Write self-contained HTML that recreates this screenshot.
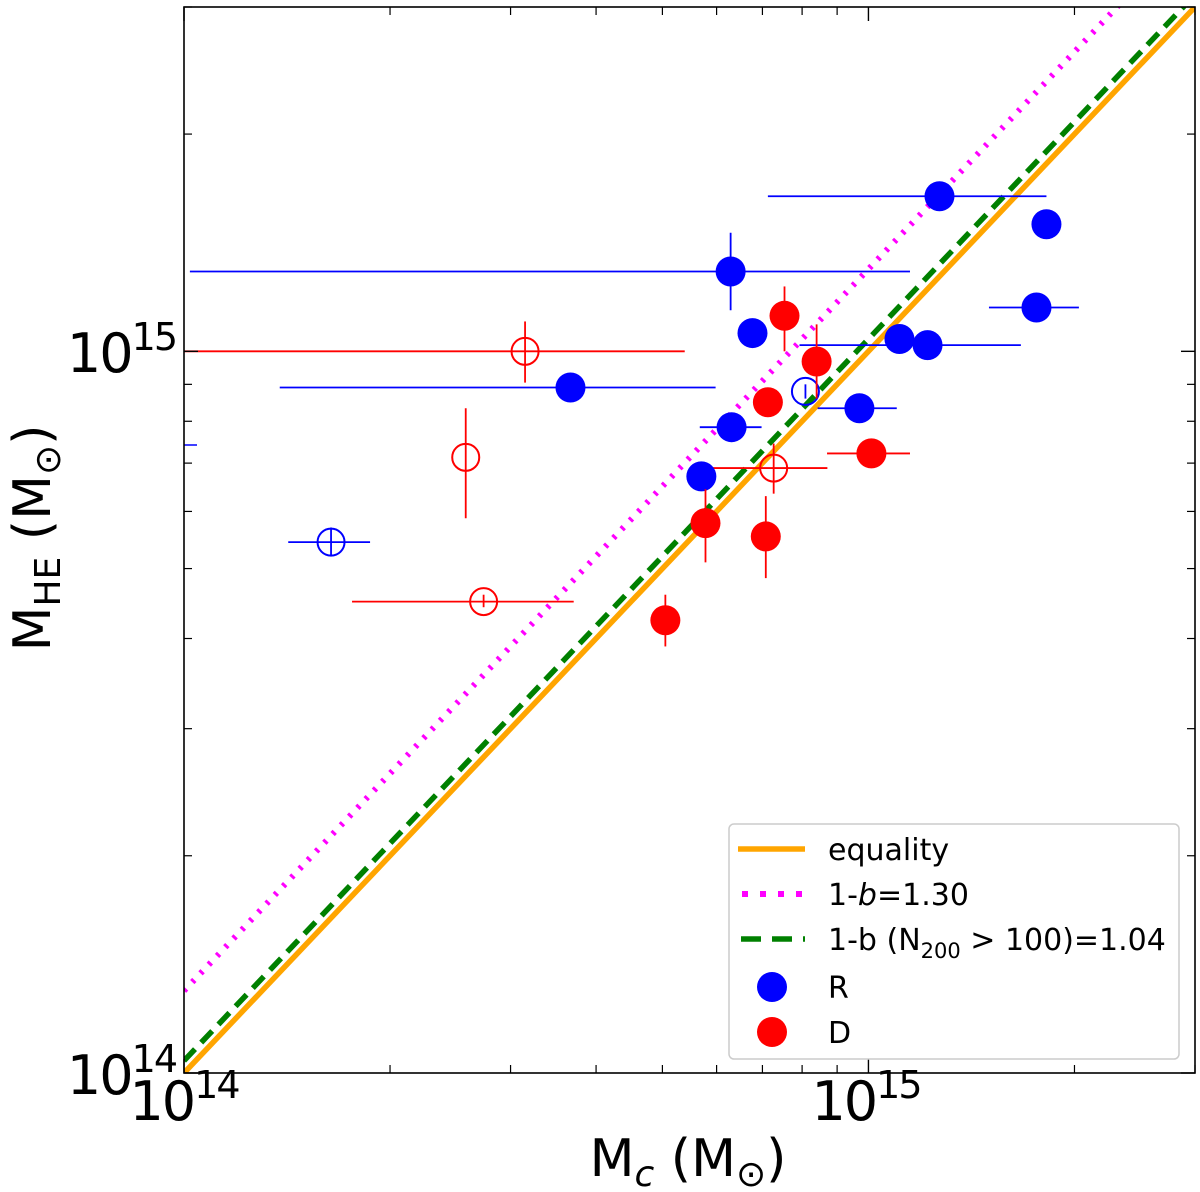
<!DOCTYPE html>
<html><head><meta charset="utf-8"><style>
body{margin:0;background:#fff;}
svg{display:block;font-family:"DejaVu Sans","Liberation Sans",sans-serif;}
</style></head><body>
<svg id="chart" width="1200" height="1192" viewBox="0 0 1200 1192" xmlns="http://www.w3.org/2000/svg"></svg>
<script>
// data in units of 1e14 Msun
const rX  =[12.7,18.2,6.29,17.6,6.77,11.1,12.2,3.67,9.70,6.31,5.70];
const rY  =[16.4,15.0,12.9,11.5,10.6,10.4,10.2,8.91,8.34,7.85,6.71];
const rXlo=[7.13,17.6,1.02,15.0,6.77,11.1,7.93,1.38,8.43,5.67,5.70];
const rXhi=[18.2,18.8,11.5,20.3,6.77,11.1,16.7,5.98,11.0,6.98,5.70];
const rYlo=[16.4,15.0,11.4,11.3,10.6,10.0,10.2,8.91,8.34,7.85,6.71];
const rYhi=[16.4,15.0,14.6,11.7,10.6,10.8,10.2,8.91,8.34,7.85,6.71];
const rOX=[8.09,1.64], rOY=[8.80,5.44], rOXlo=[8.09,1.42], rOXhi=[8.09,1.87], rOYlo=[8.6,5.2], rOYhi=[9.0,5.7];
const dX  =[7.54,8.40,7.13,10.1,5.78,7.08,5.05];
const dY  =[11.2,9.68,8.50,7.22,5.78,5.54,4.24];
const dXlo=[7.20,8.40,7.13,8.7,5.78,7.08,5.05];
const dXhi=[7.90,8.40,7.13,11.5,5.78,7.08,5.05];
const dYlo=[10.0,8.6,8.50,7.22,5.10,4.85,3.90];
const dYhi=[12.3,10.9,8.50,7.22,6.44,6.30,4.60];
const dOX=[3.15,2.58,7.27,2.74], dOY=[10.0,7.13,6.89,4.50];
const dOXlo=[1.0,2.58,5.86,1.76], dOXhi=[5.39,2.58,8.71,3.71];
const dOYlo=[9.05,5.87,6.35,4.42], dOYhi=[11.0,8.34,7.45,4.6];
const slopes=[1.0,1.30,1.04];

const NS="http://www.w3.org/2000/svg", svg=document.getElementById('chart');
const L=184,R=1195,T=7,B=1073, lmin=0, lmax=Math.log10(30);
const sx=v=>L+(Math.log10(v)-lmin)/(lmax-lmin)*(R-L);
const sy=v=>B-(Math.log10(v)-lmin)/(lmax-lmin)*(B-T);
function el(t,a,p){const e=document.createElementNS(NS,t);for(const k in a)e.setAttribute(k,a[k]);(p||svg).appendChild(e);return e;}
const defs=el('defs',{});const cp=el('clipPath',{id:'c'},defs);el('rect',{x:L,y:T,width:R-L,height:B-T},cp);
const g=el('g',{'clip-path':'url(#c)'});
const lineStyles=[{s:'#ffa500',d:''},{s:'#ff00ff',d:'3,9'},{s:'#008000',d:'16,9'}];
const lineNames=['equality-line','bias-130-line','bias-104-line'];
slopes.forEach((k,i)=>{
 const l=el('line',{x1:sx(1),y1:sy(k),x2:sx(30),y2:sy(30*k),stroke:lineStyles[i].s,'stroke-width':i==1?6:5.5,'stroke-dasharray':lineStyles[i].d},g);
 
 
});
el('line',{x1:184,y1:445,x2:197,y2:445,stroke:'#0000ff','stroke-width':1.5},g);
function pts(X,Y,Xlo,Xhi,Ylo,Yhi,col,filled,name){
 X.forEach((x,i)=>{
  const gg=el('g',{},g);
  
  
  el('line',{x1:sx(Xlo[i]),y1:sy(Y[i]),x2:sx(Xhi[i]),y2:sy(Y[i]),stroke:col,'stroke-width':1.8},gg);
  el('line',{x1:sx(x),y1:sy(Ylo[i]),x2:sx(x),y2:sy(Yhi[i]),stroke:col,'stroke-width':1.8},gg);
  el('circle',{cx:sx(x),cy:sy(Y[i]),r:filled?15:13.5,fill:filled?col:'none',stroke:col,'stroke-width':filled?0:2},gg);
 });
}
pts(rOX,rOY,rOXlo,rOXhi,rOYlo,rOYhi,'#0000ff',false,'r-open-point');
pts(dOX,dOY,dOXlo,dOXhi,dOYlo,dOYhi,'#ff0000',false,'d-open-point');
pts(rX,rY,rXlo,rXhi,rYlo,rYhi,'#0000ff',true,'r-point');
pts(dX,dY,dXlo,dXhi,dYlo,dYhi,'#ff0000',true,'d-point');
const fr=el('rect',{x:L,y:T,width:R-L,height:B-T,fill:'none',stroke:'#000','stroke-width':1.6});

const minors=[2,3,4,5,6,7,8,9,20,30];
minors.forEach(m=>{
 const x=sx(m),y=sy(m);
 el('line',{x1:x,y1:B,x2:x,y2:B-8,stroke:'#000','stroke-width':1.2});
 el('line',{x1:x,y1:T,x2:x,y2:T+8,stroke:'#000','stroke-width':1.2});
 el('line',{x1:L,y1:y,x2:L+8,y2:y,stroke:'#000','stroke-width':1.2});
 el('line',{x1:R,y1:y,x2:R-8,y2:y,stroke:'#000','stroke-width':1.2});
});
[1,10].forEach(m=>{const x=sx(m),y=sy(m);
 el('line',{x1:x,y1:B,x2:x,y2:B-14,stroke:'#000','stroke-width':1.4});
 el('line',{x1:x,y1:T,x2:x,y2:T+14,stroke:'#000','stroke-width':1.4});
 el('line',{x1:L,y1:y,x2:L+14,y2:y,stroke:'#000','stroke-width':1.4});
 el('line',{x1:R,y1:y,x2:R-14,y2:y,stroke:'#000','stroke-width':1.4});
});
function tl(x,y,exp,anchor,name){
 const t=el('text',{x:x,y:y,'font-size':54,'text-anchor':anchor,'letter-spacing':-2});
 
 t.innerHTML='10<tspan dy="-22" font-size="38">'+exp+'</tspan>';
}
tl(184,1120,'14','middle','x-tick-1e14');
tl(866,1120,'15','middle','x-tick-1e15');
tl(176,1094,'14','end','y-tick-1e14');
tl(176,372,'15','end','y-tick-1e15');
const xt=el('text',{x:688,y:1176,'font-size':52,'text-anchor':'middle'});

xt.innerHTML='M<tspan font-size="36" dy="10" font-style="italic">c</tspan><tspan dy="-10"> (M</tspan><tspan font-size="36" dy="10">⊙</tspan><tspan dy="-10">)</tspan>';
const yt=el('text',{x:0,y:0,'font-size':52,'text-anchor':'middle',transform:'translate(50,538) rotate(-90)'});

yt.innerHTML='M<tspan font-size="36" dy="10">HE</tspan><tspan dy="-10"> (M</tspan><tspan font-size="36" dy="10">⊙</tspan><tspan dy="-10">)</tspan>';
const lg=el('g',{});
el('rect',{x:729,y:824,width:450,height:235,rx:5,fill:'#fff',stroke:'#ccc','stroke-width':1.5},lg);
const rows=[849,894,939,987,1032];
el('line',{x1:738,y1:rows[0],x2:805,y2:rows[0],stroke:'#ffa500','stroke-width':5.5},lg);
el('line',{x1:742,y1:rows[1],x2:805,y2:rows[1],stroke:'#ff00ff','stroke-width':6,'stroke-dasharray':'6,12'},lg);
el('line',{x1:741,y1:rows[2],x2:805,y2:rows[2],stroke:'#008000','stroke-width':5.5,'stroke-dasharray':'20,11'},lg);
el('circle',{cx:772,cy:rows[3],r:15,fill:'#0000ff'},lg);
el('circle',{cx:772,cy:rows[4],r:15,fill:'#ff0000'},lg);
const labs=['equality','1-<tspan font-style="italic">b</tspan>=1.30','1-b (N<tspan font-size="21" dy="8">200</tspan><tspan dy="-8"> &gt; 100)=1.04</tspan>','R','D'];
const lnames=['legend-equality','legend-bias-130','legend-bias-104','legend-r','legend-d'];
labs.forEach((s,i)=>{const t=el('text',{x:828,y:rows[i]+11,'font-size':30},lg);t.innerHTML=s;
 });
</script>
</body></html>
